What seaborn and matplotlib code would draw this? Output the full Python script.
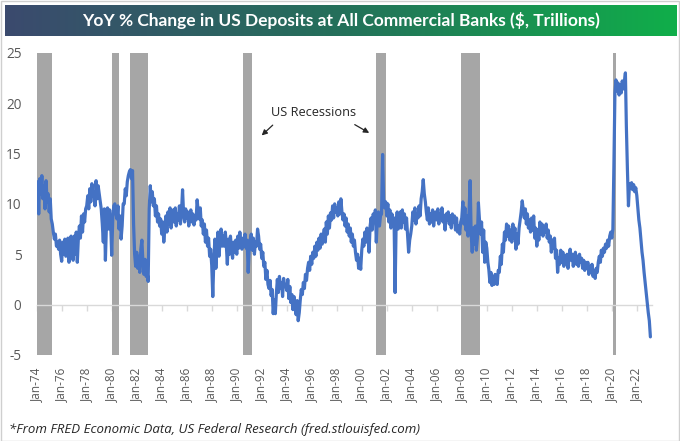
import numpy as np
import pandas as pd
import matplotlib
matplotlib.use("Agg")
import matplotlib.pyplot as plt
import matplotlib.dates as mdates
from matplotlib.colors import LinearSegmentedColormap
from matplotlib.patches import Rectangle
import seaborn as sns

title = "YoY % Change in US Deposits at All Commercial Banks ($, Trillions)"
footnote = "*From FRED Economic Data, US Federal Research (fred.stlouisfed.com)"
annotation = "US Recessions"

start_month = "1974-01-01"

# Monthly YoY % change
yoy_1970s = [
    11.5, 12.2, 9.0, 12.5, 11.0, 12.8, 10.5, 11.8, 9.5, 12.3, 10.2, 11.0,   # 1974
    9.2, 10.5, 8.5, 8.0, 7.2, 6.5, 7.0, 5.8, 6.2, 5.5, 6.4, 5.0,            # 1975
    4.3, 6.2, 5.0, 6.5, 4.8, 5.5, 6.6, 4.2, 5.8, 6.8, 5.2, 4.4,             # 1976
    6.8, 5.0, 7.2, 4.2, 6.5, 7.8, 6.6, 8.8, 7.2, 9.0, 8.2, 9.5,             # 1977
    9.8, 10.8, 9.5, 11.5, 10.2, 12.0, 10.8, 11.2, 9.8, 12.3, 10.5, 11.8,    # 1978
    11.0, 10.2, 9.5, 8.0, 6.2, 9.5, 4.4, 8.0, 9.6, 7.5, 9.4, 8.2,           # 1979
]
yoy_1980s = [
    4.9, 8.5, 9.8, 10.0, 9.2, 8.5, 9.8, 7.5, 8.8, 6.5, 7.8, 10.0,           # 1980
    10.0, 11.5, 10.8, 12.2, 12.8, 13.2, 13.4, 12.5, 13.3, 8.0, 5.0, 3.8,    # 1981
    5.2, 3.6, 4.8, 3.2, 5.5, 6.4, 4.2, 3.0, 4.5, 2.8, 3.2, 2.3,             # 1982
    9.5, 11.8, 10.2, 11.2, 9.8, 10.5, 8.8, 9.8, 8.2, 9.0, 7.8, 8.5,         # 1983
    7.0, 8.2, 6.2, 7.5, 8.8, 7.2, 9.2, 8.0, 9.6, 7.6, 8.5, 9.4,             # 1984
    8.2, 9.6, 7.8, 9.0, 8.4, 9.8, 8.0, 9.2, 11.4, 9.0, 8.2, 9.5,            # 1985
    8.6, 9.2, 7.8, 8.8, 9.4, 8.2, 9.0, 7.9, 8.7, 8.4, 10.4, 9.3,            # 1986
    8.5, 9.6, 7.8, 8.4, 7.0, 8.0, 6.2, 7.4, 5.8, 6.6, 4.8, 5.5,             # 1987
    3.9, 0.8, 4.2, 6.5, 3.6, 5.8, 7.2, 4.8, 6.4, 7.5, 5.8, 6.8,             # 1988
    5.8, 7.2, 6.0, 4.0, 6.5, 5.0, 6.8, 5.5, 4.6, 6.2, 5.2, 6.4,             # 1989
]
yoy_1990s = [
    5.0, 6.8, 5.6, 7.2, 6.0, 5.5, 6.6, 5.8, 7.0, 5.6, 6.4, 3.2,             # 1990
    5.6, 6.5, 7.0, 5.4, 6.6, 5.0, 6.2, 5.8, 7.5, 6.8, 5.5, 6.0,             # 1991
    4.6, 5.2, 3.8, 4.2, 2.5, 3.4, 2.0, 1.6, 2.4, 0.9, 1.5, -0.9,            # 1992
    0.5, -0.9, 1.0, 2.5, 1.2, 2.8, 1.6, 2.2, 0.8, 2.6, 1.8, 2.0,            # 1993
    1.4, 2.5, 0.6, 1.8, 0.2, 1.0, -0.5, 0.8, -0.2, -1.0, 0.4, -1.6,         # 1994
    -0.8, 0.5, 1.5, 1.0, 2.2, 1.6, 3.0, 2.4, 3.6, 4.2, 3.4, 4.8,            # 1995
    4.0, 5.2, 4.6, 5.8, 4.8, 6.2, 5.4, 6.6, 5.6, 7.0, 6.0, 6.8,             # 1996
    7.5, 6.2, 8.2, 7.0, 8.8, 7.6, 9.1, 8.4, 9.8, 8.6, 10.0, 9.2,            # 1997
    9.6, 8.8, 10.2, 9.0, 10.5, 9.2, 8.4, 9.0, 7.8, 8.6, 7.2, 8.0,           # 1998
    6.8, 7.6, 6.2, 7.0, 5.8, 6.4, 5.2, 4.4, 5.0, 3.6, 4.6, 3.5,             # 1999
]
yoy_2000s = [
    5.4, 6.5, 5.8, 7.2, 6.2, 7.6, 6.8, 5.2, 7.8, 8.6, 7.4, 9.0,             # 2000
    8.2, 9.4, 6.2, 8.6, 9.2, 7.8, 8.8, 9.0, 14.9, 10.5, 9.6, 10.2,          # 2001
    8.8, 10.0, 8.2, 9.4, 7.6, 9.0, 7.8, 8.6, 1.2, 8.0, 9.2, 7.5,            # 2002
    8.4, 9.2, 7.6, 9.4, 8.2, 9.0, 7.5, 8.6, 6.8, 5.2, 6.4, 7.0,             # 2003
    7.8, 9.2, 8.4, 9.6, 8.0, 9.0, 8.6, 9.8, 8.8, 10.5, 11.2, 12.4,          # 2004
    11.0, 10.2, 9.2, 8.4, 9.6, 8.0, 9.0, 8.2, 9.4, 7.8, 8.8, 9.2,           # 2005
    8.4, 9.5, 8.0, 9.0, 8.6, 9.6, 8.2, 8.8, 7.4, 9.0, 8.4, 9.2,             # 2006
    8.0, 8.8, 7.6, 9.0, 8.2, 8.8, 7.4, 8.6, 7.2, 7.8, 7.0, 8.2,             # 2007
    8.6, 10.2, 8.0, 9.6, 7.4, 8.8, 6.8, 9.2, 12.3, 7.0, 5.2, 7.6,           # 2008
    6.0, 7.8, 5.4, 6.6, 10.1, 8.4, 7.0, 8.2, 5.2, 7.4, 4.2, 6.2,            # 2009
]
yoy_2010s = [
    5.6, 4.2, 3.5, 2.2, 3.2, 1.9, 2.8, 2.0, 3.0, 2.4, 2.0, 3.4,             # 2010
    3.2, 4.8, 4.0, 6.0, 5.2, 7.2, 6.4, 8.0, 6.8, 7.8, 6.4, 7.4,             # 2011
    6.2, 8.0, 6.6, 7.6, 5.5, 7.0, 6.0, 7.6, 8.4, 9.2, 10.3, 9.4,            # 2012
    8.6, 9.5, 8.0, 9.0, 7.6, 8.4, 7.2, 8.6, 7.4, 8.8, 6.6, 7.6,             # 2013
    5.8, 7.4, 6.4, 8.2, 7.0, 8.0, 6.8, 7.6, 7.2, 8.0, 6.6, 7.4,             # 2014
    6.2, 6.8, 5.2, 6.4, 5.6, 6.6, 4.6, 5.4, 3.2, 4.6, 4.0, 5.4,             # 2015
    4.2, 5.2, 3.8, 4.8, 4.2, 5.0, 3.6, 4.8, 5.5, 4.4, 5.0, 3.8,             # 2016
    4.6, 5.2, 4.0, 4.8, 3.8, 5.0, 4.2, 4.6, 3.6, 4.4, 3.4, 4.2,             # 2017
    3.6, 4.2, 3.0, 3.8, 3.2, 4.0, 2.8, 3.4, 2.6, 3.6, 3.2, 4.2,             # 2018
    4.8, 4.2, 5.4, 4.8, 5.6, 5.2, 6.0, 5.6, 6.4, 5.8, 6.8, 7.2,             # 2019
]
yoy_2020s = [
    6.6, 7.5, 13.6, 21.0, 22.3, 21.2, 22.0, 20.8, 21.8, 21.0, 22.2, 21.4,   # 2020
    22.0, 23.0, 17.7, 13.4, 9.8, 12.0, 11.6, 12.1, 11.4, 11.9, 11.2, 11.6,  # 2021
    10.8, 9.5, 8.4, 7.6, 6.4, 5.2, 4.4, 3.2, 2.2, 1.2, 0.2, -0.8,           # 2022
    -1.6, -3.2,                                                             # 2023
]

rec_start = ["1974-01-01", "1980-01-01", "1981-07-01", "1990-07-01",
             "2001-03-01", "2007-12-01", "2020-02-01"]
rec_end = ["1975-03-31", "1980-07-31", "1982-11-30", "1991-03-31",
           "2001-11-30", "2009-06-30", "2020-04-30"]

y_ticks = [-5, 0, 5, 10, 15, 20, 25]
x_tick_years = list(range(1974, 2023, 2))

yoy_pct = yoy_1970s + yoy_1980s + yoy_1990s + yoy_2000s + yoy_2010s + yoy_2020s
dates = pd.date_range(start_month, periods=len(yoy_pct), freq="MS")
df = pd.DataFrame({"date": dates, "yoy": yoy_pct})

sns.set_theme(style="white")
plt.rcParams["font.family"] = ["Open Sans", "DejaVu Sans"]

W, H = 680, 441
fig = plt.figure(figsize=(W / 100, H / 100), dpi=100)
fig.patch.set_facecolor("white")

# ---- title bar with gradient
tax = fig.add_axes([5 / W, 1 - 36 / H, 672 / W, 31 / H])
grad = np.linspace(0, 1, 512)[None, :]
cmap = LinearSegmentedColormap.from_list("tb", ["#3b4a6e", "#24705a", "#10ae4a"])
tax.imshow(grad, aspect="auto", cmap=cmap, extent=[0, 1, 0, 1])
tax.set_xlim(0, 1); tax.set_ylim(0, 1)
tax.axis("off")
tax.text(0.5, 0.5, title, ha="center", va="center", color="white",
         fontsize=12.5, fontweight="bold", family=["Lato", "DejaVu Sans"])

# ---- main axes
ax = fig.add_axes([36.7 / W, 1 - 355 / H, (652 - 36.7) / W, (355 - 52.7) / H])
ax.set_facecolor("white")
for s, e in zip(rec_start, rec_end):
    ax.axvspan(pd.Timestamp(s), pd.Timestamp(e), color="#a6a6a6", lw=0, zorder=1)

sns.lineplot(data=df, x="date", y="yoy", ax=ax, color="#4472c4", lw=2.3,
             estimator=None, zorder=3)

ax.set_xlim(pd.Timestamp("1974-01-01"), pd.Timestamp("2023-03-20"))
ax.set_ylim(-5, 25)
ax.set_xlabel(""); ax.set_ylabel("")

for sp in ["top", "right", "left"]:
    ax.spines[sp].set_visible(False)
ax.spines["bottom"].set_position(("data", 0))
ax.spines["bottom"].set_color("#d9d9d9")
ax.spines["bottom"].set_linewidth(1.0)
ax.spines["bottom"].set_zorder(2)

tick_pos = [mdates.date2num(pd.Timestamp(f"{y}-01-01")) for y in x_tick_years]
tick_lab = [f"Jan-{y % 100:02d}" for y in x_tick_years]
ax.set_xticks(tick_pos)
ax.tick_params(axis="x", direction="out", length=4, width=1, color="#d9d9d9",
               labelbottom=False, bottom=True)
ax.set_yticks(y_ticks)
ax.set_yticklabels([str(v) for v in y_ticks])
ax.tick_params(axis="y", length=0, pad=11, labelsize=9.8, labelcolor="#595959")

sec = ax.secondary_xaxis("bottom")
sec.set_xticks(tick_pos)
sec.set_xticklabels(tick_lab, rotation=90)
sec.tick_params(length=0, pad=9, labelsize=8.5, labelcolor="#595959")
sec.spines["bottom"].set_visible(False)

# ---- annotation
txt_x = pd.Timestamp("1996-03-01")
ax.text(mdates.date2num(txt_x), 19.1, annotation, ha="center", va="center",
        fontsize=9.2, color="#262626")
ax.annotate("", xy=(mdates.date2num(pd.Timestamp("1991-11-01")), 16.6),
            xytext=(mdates.date2num(pd.Timestamp("1993-01-15")), 18.0),
            arrowprops=dict(arrowstyle="-|>", color="#262626", lw=0.9,
                            mutation_scale=8))
ax.annotate("", xy=(mdates.date2num(pd.Timestamp("2000-10-15")), 16.9),
            xytext=(mdates.date2num(pd.Timestamp("1999-04-01")), 18.0),
            arrowprops=dict(arrowstyle="-|>", color="#262626", lw=0.9,
                            mutation_scale=8))

# ---- footnote
fig.text(9 / W, 1 - 429 / H, footnote, ha="left", va="center", fontsize=9.5,
         style="italic", color="#262626")

# ---- outer border
fig.add_artist(Rectangle((0.5 / W, 0.5 / H), 1 - 1.5 / W, 1 - 1.5 / H,
                         transform=fig.transFigure, fill=False,
                         edgecolor="#cfcfcf", lw=1))

fig.savefig("out.png", dpi=100, facecolor="white")
